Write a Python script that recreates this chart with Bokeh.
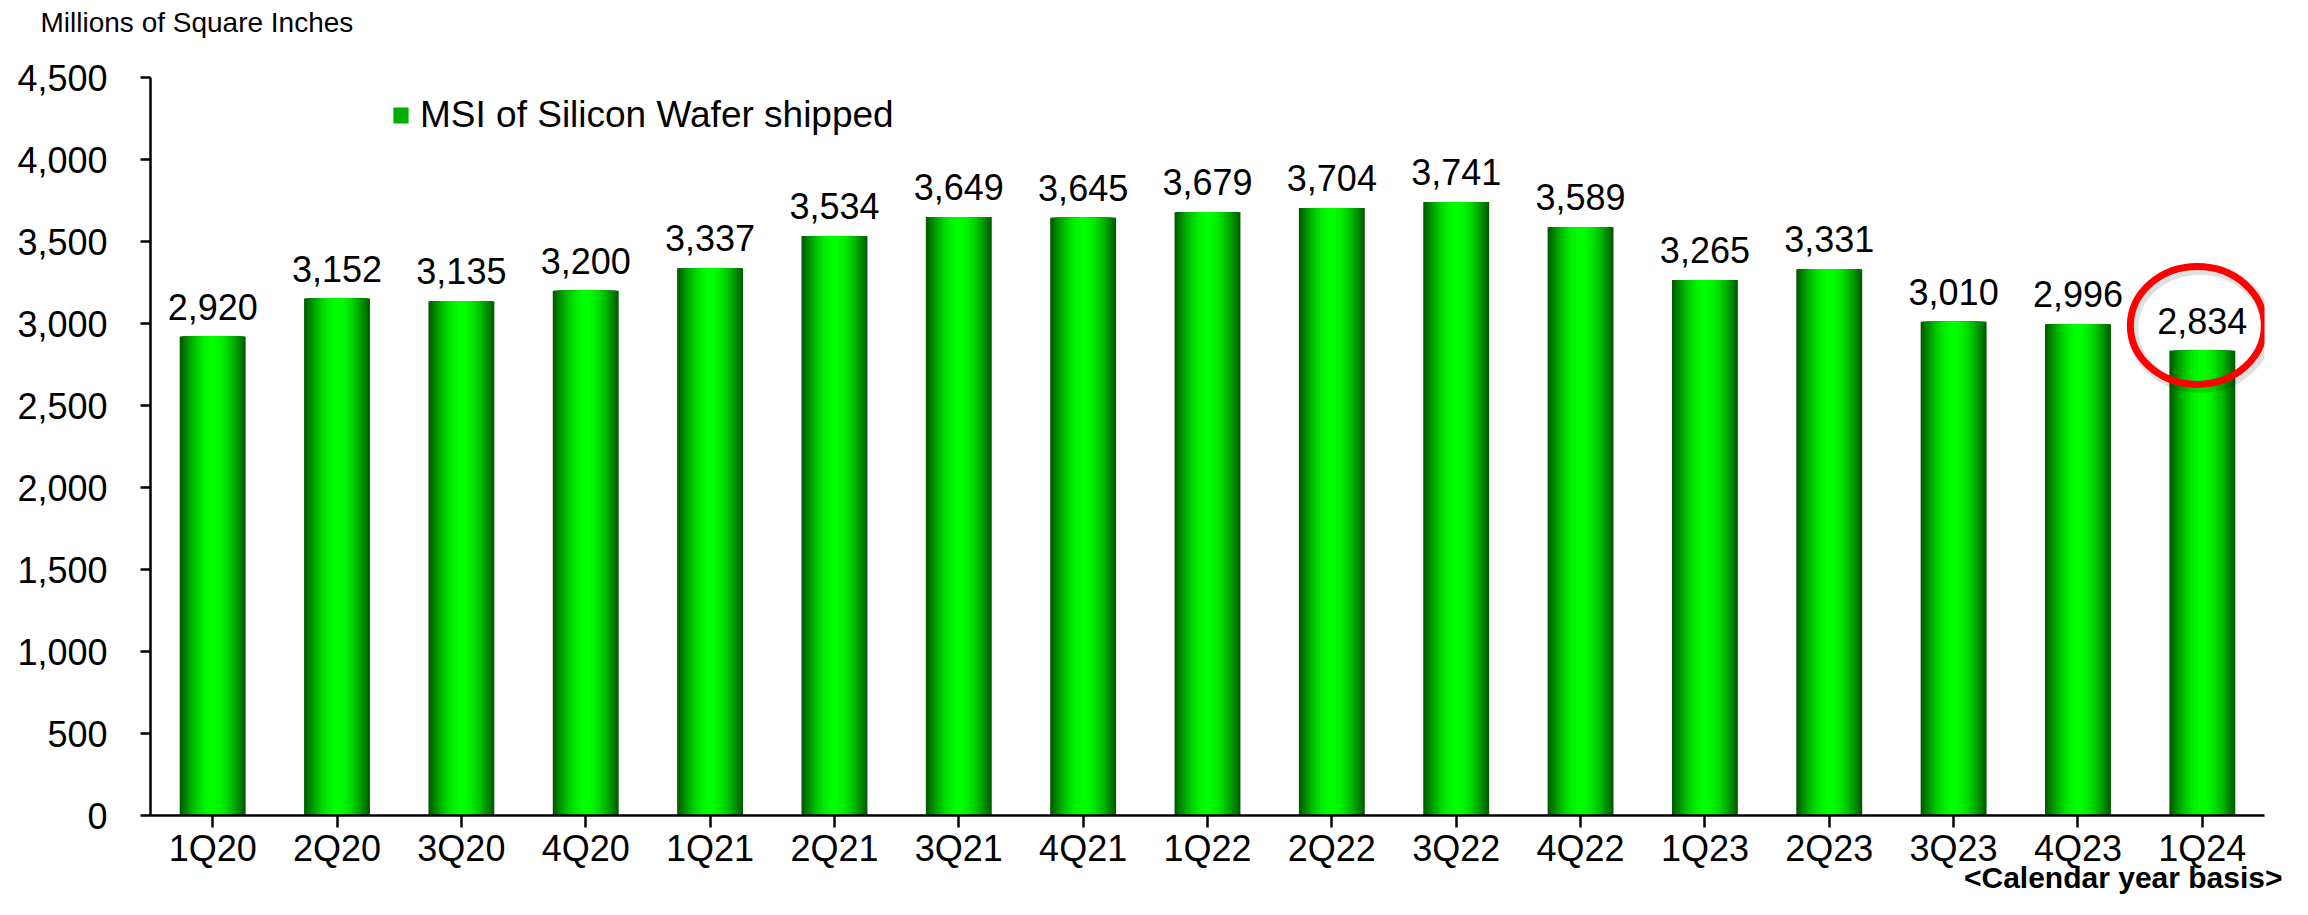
import math
from bokeh.plotting import figure
from bokeh.models import (FactorRange, Range1d, FixedTicker, NumeralTickFormatter,
                          Legend, LegendItem, ColumnDataSource, Title)
from bokeh.core.properties import value
from bokeh.embed import file_html
from bokeh.resources import INLINE

# ---- data ----
quarters = ["1Q20", "2Q20", "3Q20", "4Q20", "1Q21", "2Q21", "3Q21", "4Q21",
            "1Q22", "2Q22", "3Q22", "4Q22", "1Q23", "2Q23", "3Q23", "4Q23", "1Q24"]
msi = [2920, 3152, 3135, 3200, 3337, 3534, 3649, 3645,
       3679, 3704, 3741, 3589, 3265, 3331, 3010, 2996, 2834]
y_ticks = [0, 500, 1000, 1500, 2000, 2500, 3000, 3500, 4000, 4500]
series_name = "MSI of Silicon Wafer shipped"
unit_title = "Millions of Square Inches"
basis_note = "<Calendar year basis>"
highlight = "1Q24"

FONT = "Liberation Sans"

src = ColumnDataSource(dict(q=quarters, v=msi, lbl=[f"{v:,}" for v in msi]))

p = figure(width=2292, height=899,
           x_range=FactorRange(*quarters, range_padding=0),
           y_range=Range1d(0, 4500),
           output_backend="svg", toolbar_location=None,
           min_border_left=150, min_border_right=28,
           min_border_top=77, min_border_bottom=84)

# gradient bars: layered vbars, dark at edges to bright green centre
N = 24
dark = 92
layers = []
for k in range(N):
    f = 1 - k / N
    t = math.cos(f * math.pi / 2)
    g = int(round(dark + (255 - dark) * t))
    color = "#00%02X00" % g
    r = p.vbar(x="q", top="v", width=0.53 * f, source=src,
               fill_color=color, line_color=None)
    layers.append(r)

# value labels
p.text(x="q", y="v", text="lbl", source=src, text_align="center",
       text_baseline="alphabetic", y_offset=-30,
       text_font=value(FONT), text_font_size=value("36px"), text_color="black")

# highlight ellipse around the last value label
hi = quarters.index(highlight)
hl_x = hi + 0.46
hl_y = msi[hi] + 154
p.ellipse(x=[hl_x + 0.02], y=[hl_y - 18], width=134, height=118,
          width_units="screen", height_units="screen",
          fill_color=None, line_color="black", line_alpha=0.12, line_width=11)
p.ellipse(x=[hl_x], y=[hl_y], width=134, height=118,
          width_units="screen", height_units="screen",
          fill_color=None, line_color="#FF0000", line_width=7)

# axes
p.xgrid.grid_line_color = None
p.ygrid.grid_line_color = None
p.outline_line_color = None

for ax in (p.xaxis[0], p.yaxis[0]):
    ax.axis_line_color = "black"
    ax.axis_line_width = 2.5
    ax.major_tick_line_color = "black"
    ax.major_tick_line_width = 2.5
    ax.major_tick_in = 0
    ax.minor_tick_line_color = None
    ax.major_label_text_font = FONT
    ax.major_label_text_font_size = "36px"
    ax.major_label_text_color = "black"

p.xaxis.major_tick_out = 12
p.xaxis.major_label_standoff = 0
p.yaxis.major_tick_out = 10
p.yaxis.major_label_standoff = 33
p.yaxis.ticker = FixedTicker(ticks=y_ticks)
p.yaxis.formatter = NumeralTickFormatter(format="0,0")

# unit title at the top-left (padded with spacer lines so it sits at the top)
p.title.text = unit_title + "\n \n "
p.title.align = "left"
p.title.vertical_align = "top"
p.title.offset = -110
p.title.standoff = -48
p.title.text_font = FONT
p.title.text_font_size = "28px"
p.title.text_font_style = "normal"
p.title.text_color = "black"

# basis note at bottom right (below the axis)
p.add_layout(Title(text=basis_note, align="right", vertical_align="top",
                   offset=-18, standoff=-22, text_font=FONT,
                   text_font_size="30px", text_font_style="bold",
                   text_color="black"), "below")

legend = Legend(items=[LegendItem(label=series_name, renderers=[layers[N // 3]])],
                location=(241, 679), glyph_width=19, glyph_height=20,
                label_standoff=10, label_text_font=FONT,
                label_text_font_size="37px", label_text_color="black",
                padding=0, margin=0, spacing=0,
                border_line_alpha=0, background_fill_alpha=0)
p.add_layout(legend)

open("out.html", "w").write(file_html(p, INLINE))
